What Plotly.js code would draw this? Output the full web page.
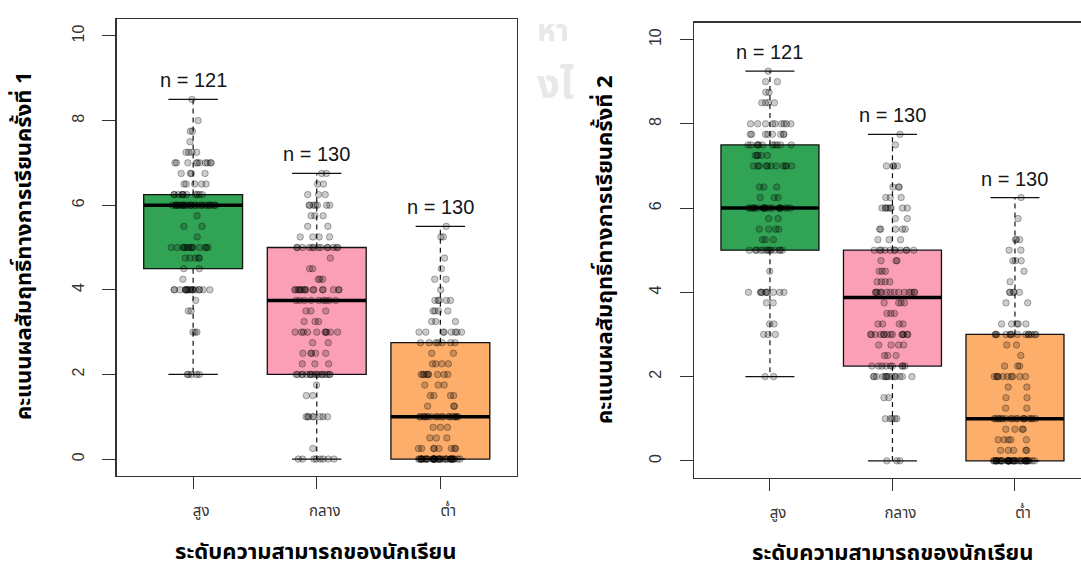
<!DOCTYPE html>
<html>
<head>
<meta charset="utf-8">
<script src="https://cdn.plot.ly/plotly-3.0.1.min.js"></script>
<style>
  html, body { margin: 0; padding: 0; background: #ffffff; }
  #chart { width: 1081px; height: 570px; }
</style>
</head>
<body>
<div id="chart"></div>
<script>
// ---------- DATA ----------
const categories = ['สูง', 'กลาง', 'ต่ำ'];
const yTickValues = [0, 2, 4, 6, 8, 10];
const yTitle1 = 'คะแนนผลสัมฤทธิ์ทางการเรียนครั้งที่ 1';
const yTitle2 = 'คะแนนผลสัมฤทธิ์ทางการเรียนครั้งที่ 2';
const xTitle = 'ระดับความสามารถของนักเรียน';

// Test 1 — score levels and how many students sit at each level
const t1HighLevels = [2, 3, 3.5, 3.75, 4, 4.25, 4.5, 4.75, 5, 5.25, 5.5, 5.75, 6, 6.25, 6.5, 6.75, 7, 7.25, 7.5, 7.75, 8, 8.5];
const t1HighCounts = [5, 3, 2, 1, 18, 1, 2, 5, 14, 1, 2, 1, 27, 11, 5, 4, 10, 4, 1, 2, 1, 1];
const t1MidLevels = [0, 0.25, 1, 1.5, 1.75, 2, 2.25, 2.5, 2.75, 3, 3.25, 3.5, 3.75, 4, 4.25, 4.5, 4.75, 5, 5.25, 5.5, 5.75, 6, 6.25, 6.5, 6.75];
const t1MidCounts = [8, 1, 8, 2, 1, 17, 3, 5, 2, 10, 3, 3, 9, 16, 3, 2, 1, 13, 4, 2, 3, 7, 3, 2, 2];
const t1LowLevels = [0, 0.25, 0.5, 0.75, 1, 1.25, 1.5, 1.75, 2, 2.25, 2.5, 2.75, 3, 3.25, 3.5, 3.75, 4, 4.25, 4.5, 4.75, 5.25, 5.5];
const t1LowCounts = [38, 8, 3, 3, 18, 3, 4, 3, 9, 4, 2, 7, 8, 3, 4, 5, 1, 2, 1, 1, 2, 1];

// Test 2
const t2HighLevels = [2, 3, 3.25, 3.75, 4, 4.5, 5, 5.25, 5.5, 5.75, 6, 6.25, 6.5, 7, 7.25, 7.5, 7.75, 8, 8.5, 8.75, 9, 9.25];
const t2HighCounts = [2, 3, 2, 2, 10, 1, 13, 3, 4, 2, 20, 3, 3, 11, 5, 11, 8, 9, 4, 2, 2, 1];
const t2MidLevels = [0, 1, 1.5, 2, 2.25, 2.5, 2.75, 3, 3.25, 3.5, 3.75, 4, 4.25, 4.5, 4.75, 5, 5.25, 5.5, 5.75, 6, 6.25, 6.5, 7, 7.5, 7.75];
const t2MidCounts = [3, 5, 2, 14, 9, 3, 4, 14, 4, 3, 4, 14, 4, 3, 3, 11, 3, 5, 2, 8, 3, 3, 4, 1, 1];
const t2LowLevels = [0, 0.25, 0.5, 0.75, 1, 1.25, 1.5, 1.75, 2, 2.25, 2.5, 2.75, 3, 3.25, 3.75, 4, 4.25, 4.5, 4.75, 5, 5.25, 5.75, 6.25];
const t2LowCounts = [38, 5, 5, 4, 18, 2, 2, 2, 10, 3, 1, 2, 14, 5, 2, 5, 1, 1, 3, 2, 3, 1, 1];

const boxColors = ['#31A354', '#FA9FB5', '#FDAE6B'];

// ---------- helpers ----------
function expand(levels, counts) {
  const out = [];
  levels.forEach((v, i) => { for (let k = 0; k < counts[i]; k++) out.push(v); });
  return out;
}
function fivenum(arr) {
  const s = arr.slice().sort((a, b) => a - b);
  const n = s.length;
  const n4 = Math.floor((n + 3) / 2) / 2;
  const d = [1, n4, (n + 1) / 2, n + 1 - n4, n];
  return d.map(p => 0.5 * (s[Math.floor(p) - 1] + s[Math.ceil(p) - 1]));
}
function boxStats(arr) {
  const f = fivenum(arr);
  const iqr = f[3] - f[1];
  const lo = Math.min(...arr.filter(v => v >= f[1] - 1.5 * iqr));
  const hi = Math.max(...arr.filter(v => v <= f[3] + 1.5 * iqr));
  return { lo: lo, q1: f[1], med: f[2], q3: f[3], hi: hi, n: arr.length };
}

const panels = [
  { xa: 'x', ya: 'y', groups: [expand(t1HighLevels, t1HighCounts), expand(t1MidLevels, t1MidCounts), expand(t1LowLevels, t1LowCounts)] },
  { xa: 'x2', ya: 'y2', groups: [expand(t2HighLevels, t2HighCounts), expand(t2MidLevels, t2MidCounts), expand(t2LowLevels, t2LowCounts)] }
];

const traces = [];
const shapes = [];
const annotations = [];
const halfBox = 0.4, halfCap = 0.2;
const frameColor = '#333333';

panels.forEach(p => {
  p.groups.forEach((vals, gi) => {
    const pos = gi + 1;
    const st = boxStats(vals);
    shapes.push({ type: 'rect', xref: p.xa, yref: p.ya, layer: 'below',
      x0: pos - halfBox, x1: pos + halfBox, y0: st.q1, y1: st.q3,
      fillcolor: boxColors[gi], line: { color: '#111', width: 1.3 } });
    shapes.push({ type: 'line', xref: p.xa, yref: p.ya, layer: 'below',
      x0: pos - halfBox, x1: pos + halfBox, y0: st.med, y1: st.med,
      line: { color: '#000', width: 3.5 } });
    shapes.push({ type: 'line', xref: p.xa, yref: p.ya, layer: 'below',
      x0: pos, x1: pos, y0: st.q3, y1: st.hi, line: { color: '#111', width: 1.2, dash: '5px,4px' } });
    shapes.push({ type: 'line', xref: p.xa, yref: p.ya, layer: 'below',
      x0: pos, x1: pos, y0: st.q1, y1: st.lo, line: { color: '#111', width: 1.2, dash: '5px,4px' } });
    [st.lo, st.hi].forEach(v => shapes.push({ type: 'line', xref: p.xa, yref: p.ya, layer: 'below',
      x0: pos - halfCap, x1: pos + halfCap, y0: v, y1: v, line: { color: '#111', width: 1.3 } }));
    annotations.push({ xref: p.xa, yref: p.ya, x: pos, y: st.hi + 0.45, text: 'n = ' + st.n,
      showarrow: false, xanchor: 'center', yanchor: 'middle',
      font: { family: 'Liberation Sans, Arial, sans-serif', size: 20, color: '#151515' } });
    traces.push({ type: 'box', x: vals.map(() => pos), y: vals, xaxis: p.xa, yaxis: p.ya,
      boxpoints: 'all', jitter: 0.45, pointpos: 0, width: 0.8,
      fillcolor: 'rgba(0,0,0,0)', line: { color: 'rgba(0,0,0,0)', width: 0 },
      marker: { size: 6.5, color: 'rgba(0,0,0,0.2)', line: { width: 1, color: 'rgba(0,0,0,0.3)' } },
      hoverinfo: 'y', showlegend: false });
  });
});

const thaiFont = "'Noto Sans Thai', Tahoma, 'Leelawadee UI', 'DejaVu Sans', sans-serif";
function paperText(text, px, py, size, color, angle) {
  return { xref: 'paper', yref: 'paper', x: px / 1081, y: 1 - py / 570, text: text,
    xanchor: 'center', yanchor: 'middle', textangle: angle || 0, showarrow: false, borderpad: 0,
    font: { family: thaiFont, size: size, color: color } };
}

// axis titles
annotations.push(paperText('<b>' + yTitle1 + '</b>', 24, 246, 22, '#000', -90));
annotations.push(paperText('<b>' + yTitle2 + '</b>', 605, 250, 22, '#000', -90));
annotations.push(paperText('<b>' + xTitle + '</b>', 316, 552, 22, '#000'));
annotations.push(paperText('<b>' + xTitle + '</b>', 893, 553, 22, '#000'));
// faint background watermark fragments
annotations.push(paperText('<b>หา</b>', 553, 32, 30, '#e8e8e8'));
annotations.push(paperText('<b>งไ</b>', 555, 86, 40, '#e8e8e8'));

const yAxisCommon = {
  range: [-0.4, 10.4], tickvals: yTickValues, ticktext: yTickValues.map(String),
  tickangle: -90, ticks: 'outside', ticklen: 13, tickwidth: 1, tickcolor: frameColor,
  ticklabelstandoff: 12,
  tickfont: { family: 'Liberation Sans, Arial, sans-serif', size: 16, color: '#333' },
  showgrid: false, zeroline: false, showline: true, linecolor: frameColor, linewidth: 1.4,
  fixedrange: true
};
const xAxisCommon = {
  tickvals: [1, 2, 3], ticktext: categories, ticks: 'outside', ticklen: 12, tickwidth: 1, tickcolor: frameColor,
  ticklabelstandoff: 9, ticklabelshift: 8,
  tickfont: { family: thaiFont, size: 15, color: '#333' },
  showgrid: false, zeroline: false, showline: true, mirror: true, linecolor: frameColor, linewidth: 1.4,
  fixedrange: true
};

const layout = {
  width: 1081, height: 570,
  margin: { l: 0, r: 0, t: 0, b: 0 },
  paper_bgcolor: '#ffffff', plot_bgcolor: '#ffffff',
  showlegend: false, boxmode: 'overlay',
  xaxis: Object.assign({}, xAxisCommon, { domain: [116.5 / 1081, 517 / 1081], range: [0.38, 3.62], anchor: 'y' }),
  yaxis: Object.assign({}, yAxisCommon, { domain: [1 - 476 / 570, 1 - 19 / 570], mirror: true, anchor: 'x' }),
  xaxis2: Object.assign({}, xAxisCommon, { domain: [694 / 1081, 1], range: [0.38, 3.539], anchor: 'y2' }),
  yaxis2: Object.assign({}, yAxisCommon, { domain: [1 - 477.7 / 570, 1 - 22.7 / 570], mirror: false, anchor: 'x2' }),
  shapes: shapes,
  annotations: annotations
};

Plotly.newPlot('chart', traces, layout, { displayModeBar: false, staticPlot: true });
</script>
</body>
</html>
